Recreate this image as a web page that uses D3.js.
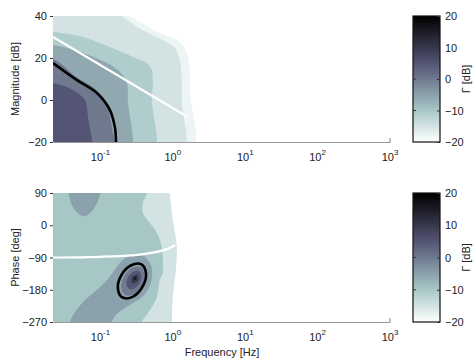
<!DOCTYPE html>
<html>
<head>
<meta charset="utf-8">
<script src="https://cdn.jsdelivr.net/npm/d3@7"></script>
<style>
  body { margin: 0; background: #fff; }
  svg { display: block; }
  text { font-family: "Liberation Sans", Arial, sans-serif; fill: #222; }
</style>
</head>
<body>
<svg id="chart" width="474" height="360"></svg>
<script>
// ---- axes / ticks ----
const freqTicks = [0.1, 1, 10, 100, 1000];
const freqExponents = ["-1", "0", "1", "2", "3"];
const magTicks = [-20, 0, 20, 40];
const phaseTicks = [-270, -180, -90, 0, 90];
const gammaTicks = [-20, -10, 0, 10, 20];

// ---- magnitude panel: Γ level regions (Hz, dB), region where Γ >= level ----
const magLevels = [-18, -15, -11, -6, 0, 5];
const magRegionM18 = [[0.01,50],[0.21,50],[0.218,41.9],[0.351,37.1],[0.662,31.9],[1.135,28.6],[1.46,24.8],[1.67,18.1],[1.72,4.8],[1.72,-30],[0.01,-30]];
const magRegionM15 = [[0.01,50],[0.15,50],[0.158,43.8],[0.255,37.1],[0.452,31.9],[0.776,28.1],[1.066,24.8],[1.249,19],[1.331,9.5],[1.331,0],[1.289,-30],[0.01,-30]];
const magRegionM11 = [[0.01,32.6],[0.0221,32.4],[0.0574,30],[0.135,25.2],[0.281,20.5],[0.438,17.6],[0.513,14.3],[0.53,8.1],[0.513,0],[0.513,-30],[0.01,-30]];
const magRegionM6 = [[0.01,26.2],[0.0221,26.2],[0.0574,22.4],[0.123,17.6],[0.186,13.3],[0.232,8.1],[0.239,0],[0.239,-30],[0.01,-30]];
const magRegion0 = [[0.01,19.5],[0.0221,19.5],[0.0445,11.4],[0.084,5.2],[0.119,-1.9],[0.140,-10.5],[0.144,-30],[0.01,-30]];
const magRegion5 = [[0.01,8.1],[0.0221,8.1],[0.0418,4.8],[0.0611,0],[0.0672,-8.1],[0.0716,-30],[0.01,-30]];
const magRegions = [magRegionM18, magRegionM15, magRegionM11, magRegionM6, magRegion0, magRegion5];
// highlighted contour and model response
const magBoundary = [[0.0221,17.6],[0.0474,9.5],[0.0895,3.3],[0.135,-4.8],[0.158,-12.9],[0.164,-20]];
const magModelFreq = [0.0221, 1.61];
const magModelDb = [30, -8.1];

// ---- phase panel: Γ level regions (Hz, deg) ----
const phaseLevels = [-15, -10, -5, -5, 0, 5, 10, 15];
const phRegionM15 = [[0.01,100],[0.909,100],[0.909,90],[1.0,14.7],[1.135,-60.7],[1.10,-124.9],[1.0,-200.2],[0.969,-270],[0.969,-280],[0.01,-280]];
const phRegionM10 = [[0.01,100],[0.438,100],[0.438,90],[0.386,62.1],[0.386,34.2],[0.482,6.3],[0.602,-21.6],[0.705,-60.7],[0.728,-97],[0.728,-133.3],[0.662,-152.8],[0.602,-200.2],[0.482,-236.5],[0.374,-270],[0.374,-280],[0.01,-280]];
const phRegionM5a = [[0.038,100],[0.0392,62.1],[0.0445,42.6],[0.0521,28.6],[0.0631,25.8],[0.0763,39.8],[0.0895,62.1],[0.0984,100]];
const phRegionM5b = [[0.038,-290],[0.038,-270],[0.0445,-242],[0.0611,-208.6],[0.0924,-177.9],[0.127,-150],[0.164,-119.3],[0.204,-97],[0.272,-83],[0.374,-83],[0.452,-97],[0.513,-119.3],[0.513,-147.2],[0.467,-175.1],[0.386,-197.4],[0.281,-217],[0.198,-236.5],[0.158,-253.3],[0.144,-270],[0.144,-290]];
const phRegion0 = [[0.362,-116.8],[0.408,-138],[0.370,-169.5],[0.285,-192.7],[0.218,-194.4],[0.193,-173.2],[0.213,-141.6],[0.276,-118.5]];
const phRegion5 = [[0.340,-128.5],[0.368,-142.2],[0.346,-162],[0.294,-176.2],[0.247,-177.1],[0.228,-163.4],[0.243,-143.9],[0.286,-129.4]];
const phRegion10 = [[0.324,-138],[0.329,-155],[0.276,-162],[0.272,-145.3]];
const phRegion15 = [[0.309,-143.9],[0.312,-150.8],[0.290,-153.3],[0.287,-146.6]];
const phRegions = [phRegionM15, phRegionM10, phRegionM5a, phRegionM5b, phRegion0, phRegion5, phRegion10, phRegion15];
const phBoundary = [[0.368,-109.5],[0.426,-134.9],[0.379,-172.3],[0.278,-199.7],[0.201,-201.6],[0.174,-176.2],[0.195,-138.8],[0.266,-111.5]];
const phModelFreq = [0.0221, 0.0984, 0.281, 0.482, 0.853, 1.07];
const phModelDeg = [-90, -88, -84, -78, -66, -56];

// ---- colour map: bone, reversed so high Γ is dark ----
function bone(t) {
  const c = v => Math.max(0, Math.min(1, v));
  const hr = c(t / 0.375), hg = c((t - 0.375) / 0.375), hb = c((t - 0.75) / 0.25);
  return d3.rgb(255 * (7 * t + hb) / 8, 255 * (7 * t + hg) / 8, 255 * (7 * t + hr) / 8);
}
const gammaDomain = [-20, 20];
const gammaColor = v => bone(1 - (v - gammaDomain[0]) / (gammaDomain[1] - gammaDomain[0]));

const svg = d3.select("#chart");
const plotLeft = 53, plotRight = 390;
const x = d3.scaleLog().domain([0.0221, 1000]).range([plotLeft, plotRight]);
const yMag = d3.scaleLinear().domain([-20, 40]).range([142, 16]);
const yPh = d3.scaleLinear().domain([-270, 90]).range([322, 193]);

function panel(id, y, levels, regions, boundary, modelF, modelV, ticks, ylabel, closedBoundary) {
  const g = svg.append("g");
  const [y0, y1] = y.range();
  g.append("clipPath").attr("id", id).append("rect")
    .attr("x", plotLeft).attr("y", y1).attr("width", plotRight - plotLeft).attr("height", y0 - y1);
  const area = g.append("g").attr("clip-path", `url(#${id})`);
  const shape = d3.line().x(d => x(d[0])).y(d => y(d[1])).curve(d3.curveCatmullRomClosed.alpha(0.5));
  regions.forEach((r, i) => {
    area.append("path").attr("d", shape(r)).attr("fill", gammaColor(levels[i])).attr("stroke", "none");
  });
  const open = d3.line().x(d => x(d[0])).y(d => y(d[1])).curve(d3.curveCatmullRom.alpha(0.5));
  area.append("path")
    .attr("d", closedBoundary ? shape(boundary) : open(boundary))
    .attr("fill", "none").attr("stroke", "#000").attr("stroke-width", 2.6);
  area.append("path")
    .attr("d", open(modelF.map((f, i) => [f, modelV[i]])))
    .attr("fill", "none").attr("stroke", "#fff").attr("stroke-width", 2.2);

  // x axis
  const xa = g.append("g").attr("transform", `translate(0,${y0})`)
    .call(d3.axisBottom(x).tickValues(freqTicks).tickSize(0).tickFormat(""));
  xa.select(".domain").attr("stroke", "#999").attr("stroke-width", 1);
  g.append("line").attr("x1", x(1000)).attr("x2", x(1000)).attr("y1", y0).attr("y2", y0 - 4)
    .attr("stroke", "#666").attr("stroke-width", 0.8);
  const lbl = g.append("g").selectAll("text").data(freqTicks).join("text")
    .attr("x", d => x(d)).attr("y", y0 + 19).attr("text-anchor", "middle").attr("font-size", 11);
  lbl.append("tspan").text("10");
  lbl.append("tspan").attr("dy", -6).attr("font-size", 8).text((d, i) => freqExponents[i]);

  // y axis
  const ya = g.append("g").attr("transform", `translate(${plotLeft},0)`)
    .call(d3.axisLeft(y).tickValues(ticks).tickSize(3).tickPadding(3));
  ya.select(".domain").remove();
  ya.selectAll(".tick line").attr("stroke", "#333");
  ya.selectAll(".tick text").attr("font-size", 11).attr("font-family", '"Liberation Sans", Arial, sans-serif').attr("fill", "#222");
  g.append("text").attr("transform", `translate(19,${(y0 + y1) / 2}) rotate(-90)`)
    .attr("text-anchor", "middle").attr("font-size", 11).text(ylabel);

  // colour bar
  const cbX = 413, cbW = 27;
  const gid = id + "-grad";
  const grad = g.append("linearGradient").attr("id", gid).attr("x1", 0).attr("y1", 1).attr("x2", 0).attr("y2", 0);
  d3.range(0, 41).forEach(i => {
    const v = gammaDomain[0] + i;
    grad.append("stop").attr("offset", i / 40).attr("stop-color", gammaColor(v));
  });
  const cb = d3.scaleLinear().domain(gammaDomain).range([y0, y1]);
  g.append("rect").attr("x", cbX).attr("y", y1).attr("width", cbW).attr("height", y0 - y1)
    .attr("fill", `url(#${gid})`).attr("stroke", "#111").attr("stroke-width", 1.2);
  const ca = g.append("g").attr("transform", `translate(${cbX + cbW},0)`)
    .call(d3.axisRight(cb).tickValues(gammaTicks).tickSize(-3).tickPadding(5));
  ca.select(".domain").remove();
  ca.selectAll(".tick line").attr("stroke", "#333");
  ca.selectAll(".tick text").attr("font-size", 11).attr("font-family", '"Liberation Sans", Arial, sans-serif').attr("fill", "#222");
  g.append("g").selectAll("line").data(gammaTicks.slice(1, -1)).join("line")
    .attr("x1", cbX).attr("x2", cbX + 3).attr("y1", d => cb(d)).attr("y2", d => cb(d))
    .attr("stroke", "#333");
  g.append("text").attr("transform", `translate(470,${(y0 + y1) / 2}) rotate(-90)`)
    .attr("text-anchor", "middle").attr("font-size", 11).text("Γ [dB]");
}

panel("clipMag", yMag, magLevels, magRegions, magBoundary, magModelFreq, magModelDb, magTicks, "Magnitude [dB]", false);
panel("clipPh", yPh, phaseLevels, phRegions, phBoundary, phModelFreq, phModelDeg, phaseTicks, "Phase [deg]", true);

svg.append("text").attr("x", 222).attr("y", 356).attr("text-anchor", "middle")
  .attr("font-size", 11).text("Frequency [Hz]");
</script>
</body>
</html>
